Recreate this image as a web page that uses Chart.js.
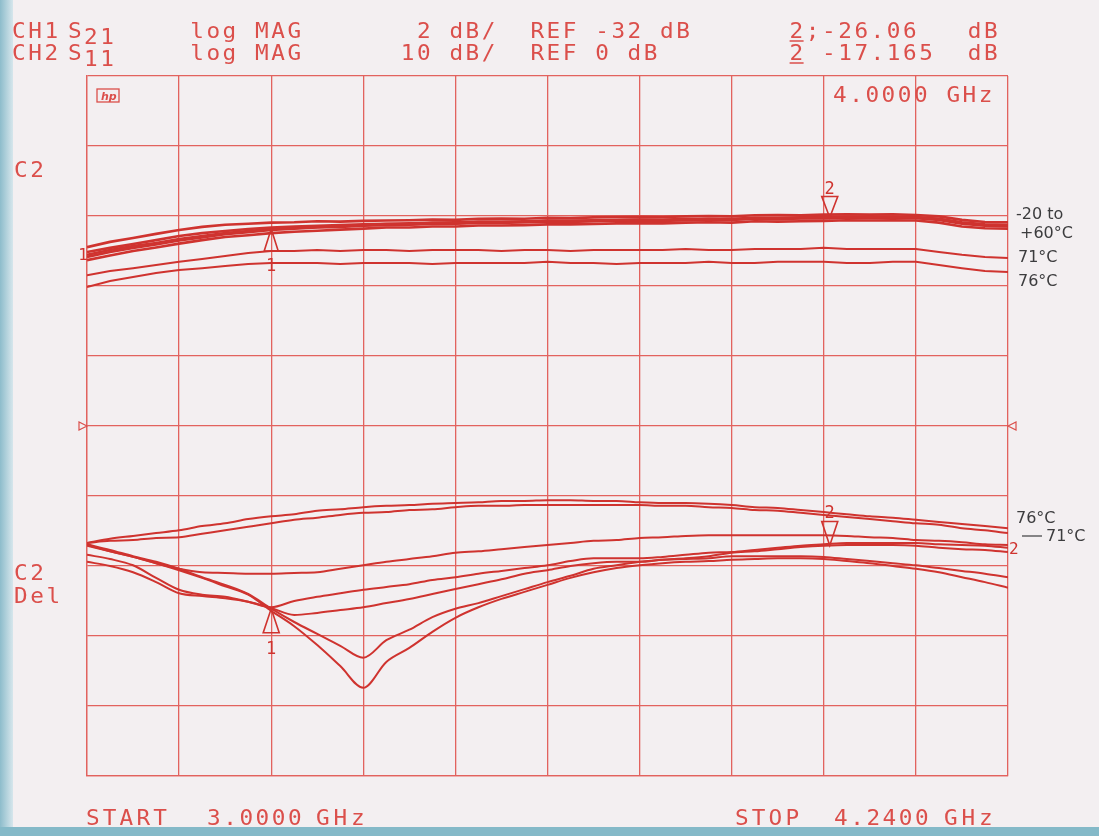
<!DOCTYPE html>
<html>
<head>
<meta charset="utf-8">
<script src="https://cdn.jsdelivr.net/npm/chart.js@4.4.0/dist/chart.umd.min.js"></script>
<style>
html, body { margin: 0; padding: 0; background: #f3eff1; }
canvas { display: block; }
</style>
</head>
<body>
<canvas id="vna" width="1099" height="836" style="width:1099px;height:836px"></canvas>
<script>
// Frecuencias de barrido (GHz), 3.000 a 4.240
const freqs = [3.000, 3.031, 3.062, 3.093, 3.124, 3.155, 3.186, 3.217, 3.248, 3.279,
    3.310, 3.341, 3.372, 3.403, 3.434, 3.465, 3.496, 3.527, 3.558, 3.589,
    3.620, 3.651, 3.682, 3.713, 3.744, 3.775, 3.806, 3.837, 3.868, 3.899,
    3.930, 3.961, 3.992, 4.023, 4.054, 4.085, 4.116, 4.147, 4.178, 4.209, 4.240];
// Divisiones de la reticula horizontal
const gridFreqs = [3.000, 3.124, 3.248, 3.372, 3.496, 3.620, 3.744, 3.868, 3.992, 4.116, 4.240];

// CH1 S21 (dB), -20 a +60 C
const s21_m20 = [-26.89, -26.74, -26.63, -26.51, -26.40, -26.31, -26.25, -26.22, -26.19, -26.18, -26.15, -26.16, -26.14, -26.13, -26.12, -26.10, -26.11, -26.08, -26.07, -26.08, -26.05, -26.06, -26.04, -26.03, -26.02, -26.03, -26.01, -26.00, -26.01, -25.98, -25.97, -25.98, -25.96, -25.95, -25.96, -25.95, -25.97, -26.01, -26.11, -26.17, -26.18];
const s21_p0 = [-27.03, -26.91, -26.80, -26.69, -26.57, -26.49, -26.43, -26.37, -26.33, -26.30, -26.28, -26.26, -26.24, -26.22, -26.21, -26.19, -26.18, -26.16, -26.16, -26.15, -26.13, -26.13, -26.12, -26.11, -26.10, -26.10, -26.09, -26.08, -26.08, -26.05, -26.05, -26.04, -26.03, -26.02, -26.02, -26.02, -26.03, -26.08, -26.18, -26.24, -26.25];
const s21_p25 = [-27.11, -26.97, -26.86, -26.77, -26.66, -26.57, -26.49, -26.43, -26.37, -26.34, -26.31, -26.29, -26.26, -26.23, -26.24, -26.20, -26.21, -26.17, -26.18, -26.17, -26.14, -26.15, -26.14, -26.12, -26.11, -26.12, -26.11, -26.09, -26.10, -26.06, -26.07, -26.06, -26.05, -26.03, -26.04, -26.03, -26.04, -26.09, -26.20, -26.26, -26.27];
const s21_p40 = [-27.17, -27.03, -26.91, -26.81, -26.70, -26.61, -26.52, -26.46, -26.40, -26.36, -26.33, -26.31, -26.28, -26.26, -26.25, -26.23, -26.22, -26.20, -26.20, -26.18, -26.17, -26.17, -26.15, -26.14, -26.13, -26.14, -26.12, -26.11, -26.11, -26.08, -26.09, -26.07, -26.07, -26.05, -26.06, -26.05, -26.06, -26.11, -26.22, -26.28, -26.29];
const s21_p60 = [-27.26, -27.13, -27.00, -26.90, -26.79, -26.69, -26.60, -26.55, -26.49, -26.45, -26.42, -26.39, -26.36, -26.33, -26.33, -26.30, -26.30, -26.27, -26.27, -26.26, -26.24, -26.24, -26.23, -26.21, -26.21, -26.21, -26.19, -26.18, -26.19, -26.15, -26.16, -26.15, -26.14, -26.12, -26.13, -26.12, -26.13, -26.19, -26.30, -26.35, -26.36];
const s21_71 = [-27.69, -27.57, -27.49, -27.40, -27.31, -27.23, -27.14, -27.06, -27.00, -27.00, -26.97, -27.00, -26.97, -26.97, -27.00, -26.97, -26.97, -26.97, -27.00, -26.97, -26.97, -27.00, -26.97, -26.97, -26.97, -26.97, -26.94, -26.97, -26.97, -26.94, -26.94, -26.94, -26.91, -26.94, -26.94, -26.94, -26.94, -27.03, -27.11, -27.17, -27.20];
const s21_76 = [-28.03, -27.86, -27.74, -27.63, -27.54, -27.49, -27.43, -27.37, -27.34, -27.34, -27.34, -27.37, -27.34, -27.34, -27.34, -27.37, -27.34, -27.34, -27.34, -27.34, -27.31, -27.34, -27.34, -27.37, -27.34, -27.34, -27.34, -27.31, -27.34, -27.34, -27.31, -27.31, -27.31, -27.34, -27.34, -27.31, -27.31, -27.40, -27.49, -27.57, -27.60];

// CH2 S11 (dB)
const s11_76 = [-16.7, -16.1, -15.7, -15.3, -14.9, -14.3, -13.9, -13.3, -12.9, -12.6, -12.1, -11.9, -11.6, -11.4, -11.3, -11.1, -11.0, -10.9, -10.7, -10.7, -10.6, -10.6, -10.7, -10.7, -10.9, -11.0, -11.0, -11.1, -11.3, -11.6, -11.7, -12.0, -12.3, -12.6, -12.9, -13.1, -13.4, -13.7, -14.0, -14.3, -14.6];
const s11_71 = [-16.7, -16.4, -16.3, -16.0, -15.9, -15.4, -14.9, -14.4, -13.9, -13.4, -13.1, -12.7, -12.4, -12.3, -12.0, -11.9, -11.6, -11.4, -11.4, -11.3, -11.3, -11.3, -11.3, -11.3, -11.3, -11.4, -11.4, -11.6, -11.7, -12.0, -12.1, -12.4, -12.7, -13.0, -13.3, -13.6, -13.9, -14.1, -14.6, -14.9, -15.3];
const s11_p60 = [-17.0, -17.9, -18.7, -19.6, -20.4, -20.9, -21.0, -21.1, -21.1, -21.0, -20.9, -20.4, -19.9, -19.4, -19.0, -18.6, -18.1, -17.9, -17.6, -17.3, -17.0, -16.7, -16.4, -16.3, -16.0, -15.9, -15.7, -15.6, -15.6, -15.6, -15.6, -15.6, -15.6, -15.7, -15.9, -16.0, -16.3, -16.4, -16.6, -16.9, -17.0];
const s11_p40 = [-18.4, -19.0, -19.9, -21.7, -23.4, -24.1, -24.4, -25.1, -25.9, -25.0, -24.4, -23.9, -23.4, -23.0, -22.6, -22.0, -21.6, -21.1, -20.7, -20.3, -19.9, -19.3, -18.9, -18.9, -18.9, -18.7, -18.4, -18.1, -18.0, -17.7, -17.4, -17.1, -16.9, -16.7, -16.7, -16.7, -16.7, -16.9, -17.0, -17.1, -17.4];
const s11_p25 = [-19.4, -20.0, -20.9, -22.3, -23.9, -24.3, -24.6, -25.1, -26.0, -27.0, -26.7, -26.3, -25.9, -25.3, -24.7, -24.0, -23.3, -22.6, -21.9, -21.1, -20.6, -20.0, -19.6, -19.4, -19.4, -19.1, -18.9, -18.6, -18.1, -17.9, -17.6, -17.3, -17.1, -17.0, -17.0, -17.0, -17.1, -17.4, -17.6, -17.7, -18.0];
const s11_p0 = [-16.9, -17.7, -18.6, -19.4, -20.4, -21.6, -22.7, -24.0, -26.1, -28.0, -29.7, -31.4, -33.1, -30.6, -29.1, -27.3, -26.1, -25.3, -24.3, -23.3, -22.3, -21.4, -20.4, -19.9, -19.4, -19.1, -19.0, -18.9, -18.6, -18.6, -18.6, -18.6, -18.7, -19.0, -19.3, -19.6, -19.9, -20.3, -20.7, -21.1, -21.6];
const s11_m20 = [-17.1, -17.9, -18.7, -19.6, -20.6, -21.7, -22.9, -24.1, -26.4, -28.6, -31.3, -34.3, -37.4, -33.7, -31.7, -29.4, -27.4, -25.9, -24.7, -23.7, -22.7, -21.7, -20.9, -20.3, -19.9, -19.6, -19.4, -19.3, -19.1, -19.0, -18.9, -18.9, -19.0, -19.3, -19.6, -20.0, -20.4, -20.9, -21.6, -22.3, -23.1];

// Marcadores (GHz)
const markerFreqs = [3.248, 4.000];

const traceRed = '#cf332f';
const textRed = '#db4f4b';
const gridRed = '#e2625e';

function toPoints(vals) {
    return freqs.map((f, i) => ({ x: f, y: vals[i] }));
}
function ch1(label, vals, w) {
    return { label: label, data: toPoints(vals), yAxisID: 'y1', borderColor: traceRed, borderWidth: w, pointRadius: 0, tension: 0 };
}
function ch2(label, vals) {
    return { label: label, data: toPoints(vals), yAxisID: 'y2', borderColor: traceRed, borderWidth: 2, pointRadius: 0, cubicInterpolationMode: 'monotone' };
}

//Valor de una traza en una frecuencia dada (para ubicar los marcadores)
function valueAt(vals, f) {
    for (let i = 0; i < freqs.length - 1; i++) {
        if (f >= freqs[i] && f <= freqs[i + 1]) {
            let t = (f - freqs[i]) / (freqs[i + 1] - freqs[i]);
            return vals[i] + t * (vals[i + 1] - vals[i]);
        }
    }
    return vals[vals.length - 1];
}

//Texto de ancho fijo estilo plotter
function plotText(ctx, x, y, txt, pitch, sx) {
    for (let k = 0; k < txt.length; k++) {
        ctx.save();
        ctx.translate(x + k * pitch, y);
        ctx.scale(sx, 1);
        ctx.fillText(txt[k], 0, 0);
        ctx.restore();
    }
}
function col(c) { return 12 + c * 16.2; }

function tri(ctx, x, yTip, h, w) {
    ctx.beginPath();
    ctx.moveTo(x, yTip);
    ctx.lineTo(x - w, yTip + h);
    ctx.lineTo(x + w, yTip + h);
    ctx.closePath();
    ctx.stroke();
}

const analyzerPlot = {
    id: 'analyzerPlot',
    beforeDraw(chart) {
        const ctx = chart.ctx;
        ctx.save();
        ctx.fillStyle = '#f3eff1';
        ctx.fillRect(0, 0, 1099, 836);
        let g = ctx.createLinearGradient(0, 0, 13, 0);
        g.addColorStop(0, '#8dbccb');
        g.addColorStop(1, '#d6e6ec');
        ctx.fillStyle = g;
        ctx.fillRect(0, 0, 13, 836);
        ctx.fillStyle = '#84b9c8';
        ctx.fillRect(0, 827, 1099, 9);
        ctx.restore();
    },
    afterDraw(chart) {
        const ctx = chart.ctx;
        const xs = chart.scales.x, y1 = chart.scales.y1, y2 = chart.scales.y2;
        const area = chart.chartArea;
        ctx.save();
        ctx.fillStyle = textRed;
        ctx.strokeStyle = textRed;
        ctx.font = '21px "DejaVu Sans Mono"';
        ctx.textBaseline = 'alphabetic';
        const P = 16.2, SX = 1.08;

        // Encabezado
        let r1 = 38, r2 = 60;
        plotText(ctx, col(0), r1, 'CH1', P, SX);
        plotText(ctx, 68, r1, 'S', P, SX);
        plotText(ctx, 84, r1 + 6, '21', P, SX);
        plotText(ctx, col(11), r1, 'log', P, SX);
        plotText(ctx, col(15), r1, 'MAG', P, SX);
        plotText(ctx, col(25), r1, '2', P, SX);
        plotText(ctx, col(27), r1, 'dB/', P, SX);
        plotText(ctx, col(32), r1, 'REF', P, SX);
        plotText(ctx, col(36), r1, '-32', P, SX);
        plotText(ctx, col(40), r1, 'dB', P, SX);
        plotText(ctx, col(48), r1, '2;', P, SX);
        plotText(ctx, col(50), r1, '-26.06', P, SX);
        plotText(ctx, col(59), r1, 'dB', P, SX);

        plotText(ctx, col(0), r2, 'CH2', P, SX);
        plotText(ctx, 68, r2, 'S', P, SX);
        plotText(ctx, 84, r2 + 6, '11', P, SX);
        plotText(ctx, col(11), r2, 'log', P, SX);
        plotText(ctx, col(15), r2, 'MAG', P, SX);
        plotText(ctx, col(24), r2, '10', P, SX);
        plotText(ctx, col(27), r2, 'dB/', P, SX);
        plotText(ctx, col(32), r2, 'REF', P, SX);
        plotText(ctx, col(36), r2, '0', P, SX);
        plotText(ctx, col(38), r2, 'dB', P, SX);
        plotText(ctx, col(48), r2, '2', P, SX);
        plotText(ctx, col(50), r2, '-17.165', P, SX);
        plotText(ctx, col(59), r2, 'dB', P, SX);
        ctx.lineWidth = 1.5;
        ctx.beginPath();
        ctx.moveTo(col(48), r1 + 3); ctx.lineTo(col(48) + 14, r1 + 3);
        ctx.moveTo(col(48), r2 + 3); ctx.lineTo(col(48) + 14, r2 + 3);
        ctx.stroke();

        plotText(ctx, 833, 102, '4.0000 GHz', P, SX);
        plotText(ctx, 14, 177, 'C2', P, SX);
        plotText(ctx, 14, 580, 'C2', P, SX);
        plotText(ctx, 14, 603, 'Del', P, SX);

        // Pie
        plotText(ctx, 86, 825, 'START', 16.8, SX);
        plotText(ctx, 207, 825, '3.0000', 16.2, SX);
        plotText(ctx, 316, 825, 'GHz', 17.5, SX);
        plotText(ctx, 735, 825, 'STOP', 16.8, SX);
        plotText(ctx, 834, 825, '4.2400', 16.2, SX);
        plotText(ctx, 944, 825, 'GHz', 17.5, SX);

        // Logo hp
        ctx.lineWidth = 1.3;
        ctx.strokeRect(97, 89, 22, 13);
        ctx.font = 'italic bold 11px "DejaVu Sans"';
        ctx.fillText('hp', 101, 100);

        // Marcadores de referencia en la linea central
        const yRef = y1.getPixelForValue(-32);
        ctx.lineWidth = 1.2;
        ctx.beginPath();
        ctx.moveTo(area.left, yRef); ctx.lineTo(area.left - 8, yRef - 4); ctx.lineTo(area.left - 8, yRef + 4); ctx.closePath();
        ctx.moveTo(area.right, yRef); ctx.lineTo(area.right + 8, yRef - 4); ctx.lineTo(area.right + 8, yRef + 4); ctx.closePath();
        ctx.stroke();

        // Marcadores de traza
        ctx.strokeStyle = traceRed;
        ctx.fillStyle = traceRed;
        ctx.lineWidth = 1.6;
        ctx.font = '17px "DejaVu Sans Mono"';
        ctx.textAlign = 'center';
        let m1x = xs.getPixelForValue(markerFreqs[0]);
        let m2x = xs.getPixelForValue(markerFreqs[1]);
        let m1a = y1.getPixelForValue(valueAt(s21_p25, markerFreqs[0]));
        tri(ctx, m1x, m1a, 22, 7);
        ctx.fillText('1', m1x, m1a + 42);
        let m1b = y2.getPixelForValue(valueAt(s11_p0, markerFreqs[0]));
        tri(ctx, m1x, m1b, 24, 8);
        ctx.fillText('1', m1x, m1b + 45);
        let m2a = y1.getPixelForValue(valueAt(s21_p25, markerFreqs[1]));
        tri(ctx, m2x, m2a, -21, 8);
        ctx.fillText('2', m2x, m2a - 24);
        let m2b = y2.getPixelForValue(valueAt(s11_p25, markerFreqs[1]));
        tri(ctx, m2x, m2b, -24, 8);
        ctx.fillText('2', m2x, m2b - 28);
        ctx.font = '16px "DejaVu Sans Mono"';
        ctx.textAlign = 'right';
        ctx.fillText('1', area.left + 1, y1.getPixelForValue(s21_p25[0]) + 5);
        ctx.textAlign = 'left';
        ctx.fillText('2', area.right + 1, y2.getPixelForValue(s11_p25[40]) + 2);

        // Anotaciones a mano
        ctx.fillStyle = '#3c3c3e';
        ctx.strokeStyle = '#3c3c3e';
        ctx.font = '16px "DejaVu Sans"';
        ctx.fillText('-20 to', 1016, 219);
        ctx.fillText('+60°C', 1020, 238);
        ctx.fillText('71°C', 1018, 262);
        ctx.fillText('76°C', 1018, 286);
        ctx.fillText('76°C', 1016, 523);
        ctx.fillText('71°C', 1046, 541);
        ctx.lineWidth = 1.2;
        ctx.beginPath();
        ctx.moveTo(1022, 536); ctx.lineTo(1042, 536);
        ctx.stroke();
        ctx.restore();
    }
};

const datasets = [
    ch1('-20 °C', s21_m20, 2.6), ch1('0 °C', s21_p0, 2.6), ch1('+25 °C', s21_p25, 2.6),
    ch1('+40 °C', s21_p40, 2.6), ch1('+60 °C', s21_p60, 2.6), ch1('71 °C', s21_71, 2), ch1('76 °C', s21_76, 2),
    ch2('76 °C', s11_76), ch2('71 °C', s11_71), ch2('+60 °C', s11_p60), ch2('+40 °C', s11_p40),
    ch2('+25 °C', s11_p25), ch2('0 °C', s11_p0), ch2('-20 °C', s11_m20)
];

const gridOpts = { color: gridRed, lineWidth: 1.3, drawTicks: false };

new Chart(document.getElementById('vna').getContext('2d'), {
    type: 'line',
    data: { datasets: datasets },
    options: {
        responsive: false,
        animation: false,
        layout: { padding: { left: 87, right: 91, top: 76, bottom: 60 } },
        plugins: { legend: { display: false }, tooltip: { enabled: false } },
        scales: {
            x: {
                type: 'linear', min: 3.0, max: 4.24,
                afterBuildTicks: (scale) => { scale.ticks = gridFreqs.map(v => ({ value: v })); },
                ticks: { display: false },
                grid: gridOpts,
                border: { color: gridRed, width: 1.3 }
            },
            y1: {
                type: 'linear', position: 'left', min: -42, max: -22,
                ticks: { display: false, stepSize: 2 },
                grid: gridOpts,
                border: { color: gridRed, width: 1.3 }
            },
            y2: { type: 'linear', position: 'right', min: -50, max: 50, display: false }
        }
    },
    plugins: [analyzerPlot]
});
</script>
</body>
</html>
